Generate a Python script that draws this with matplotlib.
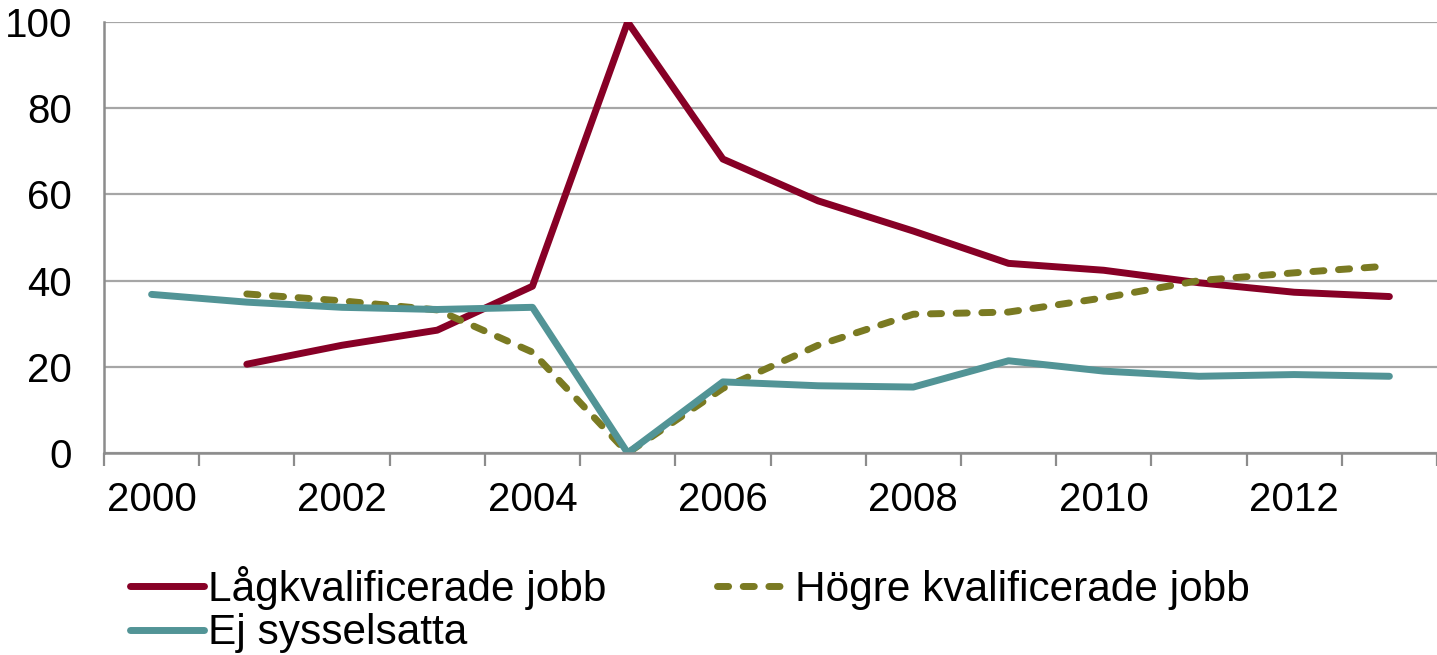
import numpy as np
import matplotlib
matplotlib.use("Agg")
import matplotlib.pyplot as plt

plt.rcParams['font.family'] = ['Liberation Sans', 'DejaVu Sans']

years = list(range(2000, 2014))
tick_labels = [str(y) for y in years[::2]]

# None = no value that year
lagkval = [None, 20.6, 25.0, 28.5, 38.7, 100.0, 68.2, 58.5, 51.5, 44.0, 42.4, 39.5, 37.3, 36.3]
hogre = [None, 36.9, 35.3, 33.2, 23.4, 0.0, 15.0, 25.0, 32.2, 32.7, 36.0, 40.0, 41.8, 43.4]
ej_syss = [36.8, 35.0, 33.8, 33.3, 33.8, 0.0, 16.5, 15.6, 15.3, 21.4, 19.0, 17.8, 18.2, 17.8]

red = '#870026'
olive = '#7A7A22'
teal = '#529496'
axis_grey = '#8C8C8C'


def arr(vals):
    return np.array([np.nan if v is None else v for v in vals], dtype=float)


fig = plt.figure(figsize=(14.37, 6.55), dpi=100)
ax = fig.add_axes([104 / 1437, 1 - 453 / 655, 1333 / 1437, 431 / 655])

x = np.arange(len(years))
l1, = ax.plot(x, arr(lagkval), color=red, lw=5, solid_capstyle='round',
              solid_joinstyle='round', label='Lågkvalificerade jobb', zorder=3)
l2, = ax.plot(x, arr(hogre), color=olive, lw=5, ls=(0, (1.6, 2.1)), dash_capstyle='round',
              label='Högre kvalificerade jobb', zorder=3)
l3, = ax.plot(x, arr(ej_syss), color=teal, lw=5, solid_capstyle='round',
              solid_joinstyle='round', label='Ej sysselsatta', zorder=4)

ax.set_xlim(-0.5, -0.5 + 1333 / 95.5)
ax.set_ylim(0, 100)
ax.set_yticks(range(0, 101, 20))
ax.set_xticks(x[::2])
ax.set_xticklabels(tick_labels)
ax.set_xticks(np.arange(-0.5, 14, 1), minor=True)

ax.grid(axis='y', color='#A6A6A6', lw=1.6)
ax.set_axisbelow(True)
for s in ['top', 'right']:
    ax.spines[s].set_visible(False)
for s in ['left', 'bottom']:
    ax.spines[s].set_color(axis_grey)
    ax.spines[s].set_linewidth(1.8)
    ax.spines[s].set_zorder(5)

ax.tick_params(axis='x', which='major', length=0, pad=20, labelsize=29)
ax.tick_params(axis='x', which='minor', length=9, width=1.6, color=axis_grey, direction='out')
ax.tick_params(axis='y', length=0, pad=23, labelsize=29)

# row-major order like the original: Låg, Högre / Ej
fig.legend([l1, l3, l2], [l1.get_label(), l3.get_label(), l2.get_label()],
           loc='upper left', bbox_to_anchor=(130 / 1437, 1 - 566 / 655), ncol=2,
           frameon=False, fontsize=30.5, handlelength=1.75, handletextpad=0.1,
           columnspacing=2.6, labelspacing=0.08, borderaxespad=0, borderpad=0)

fig.savefig('out.png', dpi=100)
